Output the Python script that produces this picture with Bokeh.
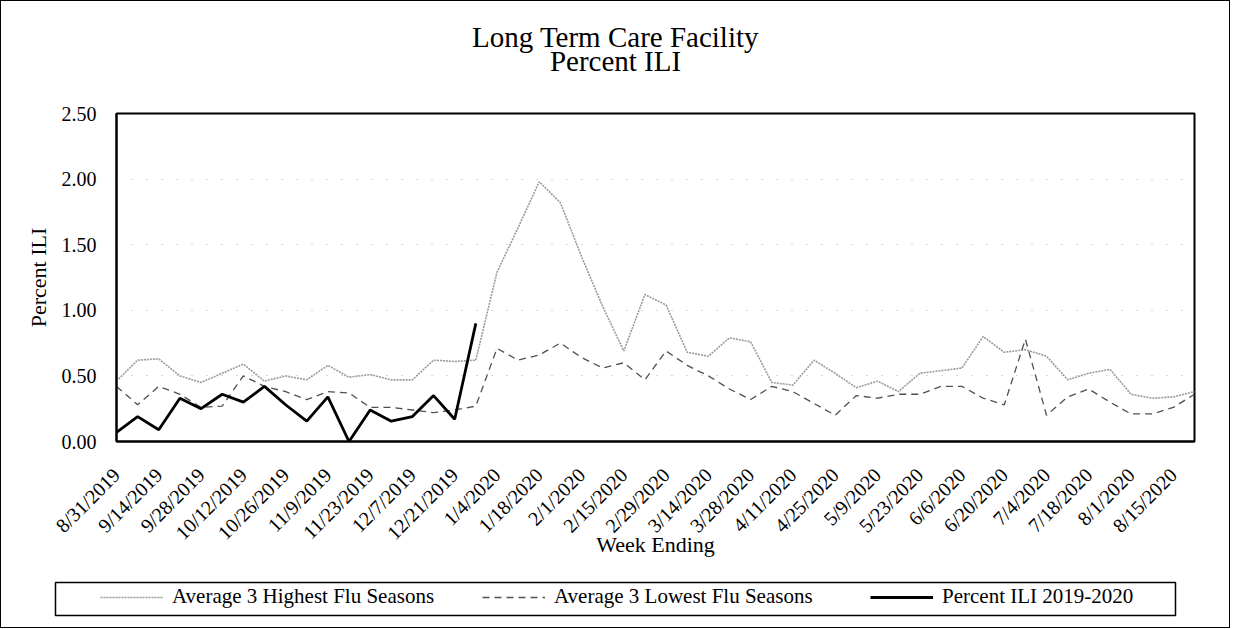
import math
from bokeh.plotting import figure
from bokeh.layouts import column
from bokeh.models import (Range1d, FixedTicker, NumeralTickFormatter, Legend, LegendItem,
                          Label, ColumnDataSource)
from bokeh.embed import file_html
from bokeh.resources import INLINE

weeks = ["8/31/2019", "9/7/2019", "9/14/2019", "9/21/2019", "9/28/2019", "10/5/2019",
         "10/12/2019", "10/19/2019", "10/26/2019", "11/2/2019", "11/9/2019", "11/16/2019",
         "11/23/2019", "11/30/2019", "12/7/2019", "12/14/2019", "12/21/2019", "12/28/2019",
         "1/4/2020", "1/11/2020", "1/18/2020", "1/25/2020", "2/1/2020", "2/8/2020",
         "2/15/2020", "2/22/2020", "2/29/2020", "3/7/2020", "3/14/2020", "3/21/2020",
         "3/28/2020", "4/4/2020", "4/11/2020", "4/18/2020", "4/25/2020", "5/2/2020",
         "5/9/2020", "5/16/2020", "5/23/2020", "5/30/2020", "6/6/2020", "6/13/2020",
         "6/20/2020", "6/27/2020", "7/4/2020", "7/11/2020", "7/18/2020", "7/25/2020",
         "8/1/2020", "8/8/2020", "8/15/2020", "8/22/2020"]

avg_highest = [0.46, 0.62, 0.63, 0.50, 0.45, 0.52, 0.59, 0.46, 0.50, 0.47, 0.58, 0.49,
               0.51, 0.47, 0.47, 0.62, 0.61, 0.62, 1.29, 1.63, 1.98, 1.82, 1.41, 1.03,
               0.69, 1.12, 1.04, 0.68, 0.65, 0.79, 0.76, 0.45, 0.43, 0.62, 0.52, 0.41,
               0.46, 0.38, 0.52, 0.54, 0.56, 0.80, 0.68, 0.70, 0.65, 0.47, 0.52, 0.55,
               0.36, 0.33, 0.34, 0.38]

avg_lowest = [0.42, 0.28, 0.42, 0.36, 0.26, 0.27, 0.50, 0.42, 0.38, 0.32, 0.38, 0.37,
              0.26, 0.26, 0.24, 0.22, 0.24, 0.27, 0.71, 0.62, 0.66, 0.75, 0.64, 0.56,
              0.60, 0.47, 0.69, 0.58, 0.50, 0.40, 0.32, 0.42, 0.38, 0.29, 0.20, 0.35,
              0.33, 0.36, 0.36, 0.42, 0.42, 0.33, 0.28, 0.78, 0.20, 0.34, 0.40, 0.30,
              0.21, 0.21, 0.26, 0.36]

ili_2019_2020 = [0.07, 0.19, 0.09, 0.33, 0.25, 0.36, 0.30, 0.42, 0.28, 0.155, 0.34, 0.00,
                 0.24, 0.155, 0.19, 0.35, 0.17, 0.90]

y_ticks = [0.0, 0.5, 1.0, 1.5, 2.0, 2.5]
series_names = ["Average 3 Highest Flu Seasons", "Average 3 Lowest Flu Seasons",
                "Percent ILI 2019-2020"]
title_lines = ["Long Term Care Facility", "Percent ILI"]

FONT = "Liberation Serif"
W = 1228
HI_STYLE = dict(line_color="#9a9a9a", line_width=1.6, line_dash="2 1")
LO_STYLE = dict(line_color="#505050", line_width=1.3, line_dash="7 5")
CUR_STYLE = dict(line_color="black", line_width=2.8)

# ---------- title strip ----------
t_fig = figure(width=W, height=97, output_backend="svg", toolbar_location=None,
               x_range=Range1d(0, 1), y_range=Range1d(0, 1),
               x_axis_type=None, y_axis_type=None)
t_fig.frame_align = False
t_fig.min_border_left = t_fig.min_border_right = 0
t_fig.min_border_top = t_fig.min_border_bottom = 0
t_fig.outline_line_color = None
t_fig.xgrid.visible = False
t_fig.ygrid.visible = False
for txt, yb in zip(title_lines, [62, 38]):
    t_fig.add_layout(Label(x=614, y=yb, x_units="screen", y_units="screen", text=txt,
                           text_align="center", text_baseline="alphabetic", text_font=FONT,
                           text_font_size="29px", text_color="black"))

# ---------- main chart ----------
p = figure(width=W, height=476, output_backend="svg", toolbar_location=None,
           x_range=Range1d(0, len(weeks) - 1), y_range=Range1d(0, 2.5))
p.frame_align = False
p.min_border_left = 115
p.min_border_right = W - 1193
p.min_border_top = 15
p.min_border_bottom = 133
p.outline_line_color = "black"
p.outline_line_width = 2

p.yaxis.ticker = FixedTicker(ticks=y_ticks)
p.yaxis.formatter = NumeralTickFormatter(format="0.00")
p.yaxis.major_tick_line_color = None
p.yaxis.minor_tick_line_color = None
p.yaxis.axis_line_color = "black"
p.yaxis.axis_line_width = 2
p.yaxis.major_label_text_font = FONT
p.yaxis.major_label_text_font_size = "20px"
p.yaxis.major_label_text_color = "black"
p.yaxis.major_label_standoff = 14
p.yaxis.axis_label = "Percent ILI"
p.yaxis.axis_label_text_font = FONT
p.yaxis.axis_label_text_font_size = "22px"
p.yaxis.axis_label_text_font_style = "normal"
p.yaxis.axis_label_text_color = "black"
p.yaxis.axis_label_standoff = 8

label_idx = list(range(0, len(weeks), 2))
p.xaxis.ticker = FixedTicker(ticks=label_idx)
p.xaxis.major_label_overrides = {i: weeks[i] for i in label_idx}
p.xaxis.major_label_orientation = math.pi / 4
p.xaxis.major_tick_line_color = None
p.xaxis.minor_tick_line_color = None
p.xaxis.axis_line_color = "black"
p.xaxis.axis_line_width = 2
p.xaxis.major_label_text_font = FONT
p.xaxis.major_label_text_font_size = "20px"
p.xaxis.major_label_text_color = "black"
p.xaxis.major_label_standoff = 24
p.xaxis.axis_label = "Week Ending"
p.xaxis.axis_label_text_font = FONT
p.xaxis.axis_label_text_font_size = "22px"
p.xaxis.axis_label_text_font_style = "normal"
p.xaxis.axis_label_text_color = "black"
p.xaxis.axis_label_standoff = -22

p.xgrid.grid_line_color = None
p.ygrid.ticker = FixedTicker(ticks=[0.5, 1.0, 1.5, 2.0])
p.ygrid.grid_line_color = "#b0b0b0"
p.ygrid.grid_line_dash = "1 14"
p.ygrid.grid_line_width = 1

x_all = list(range(len(weeks)))
src_hi = ColumnDataSource(dict(x=x_all, y=avg_highest))
src_lo = ColumnDataSource(dict(x=x_all, y=avg_lowest))
src_cur = ColumnDataSource(dict(x=x_all[:len(ili_2019_2020)], y=ili_2019_2020))
p.line("x", "y", source=src_hi, **HI_STYLE)
p.line("x", "y", source=src_lo, **LO_STYLE)
p.line("x", "y", source=src_cur, **CUR_STYLE)

# ---------- legend strip (its frame is the legend box) ----------
l_fig = figure(width=W, height=53, output_backend="svg", toolbar_location=None,
               x_range=Range1d(0, 1), y_range=Range1d(0, 1),
               x_axis_type=None, y_axis_type=None)
l_fig.frame_align = False
l_fig.min_border_left = 54
l_fig.min_border_right = W - 1174
l_fig.min_border_top = 8
l_fig.min_border_bottom = 12
l_fig.outline_line_color = "black"
l_fig.outline_line_width = 1.5
l_fig.xgrid.visible = False
l_fig.ygrid.visible = False
# legend-only key renderers: their data sit outside this strip's ranges, so only the keys show
off = dict(x=[-5, -4], y=[-5, -4])
lr_hi = l_fig.line("x", "y", source=ColumnDataSource(off), **HI_STYLE)
lr_lo = l_fig.line("x", "y", source=ColumnDataSource(off), **LO_STYLE)
lr_cur = l_fig.line("x", "y", source=ColumnDataSource(off), **CUR_STYLE)
for name, rend, xo in zip(series_names, [lr_hi, lr_lo, lr_cur], [45, 427, 815]):
    lg = Legend(items=[LegendItem(label=name, renderers=[rend])], location=(xo, 6),
                orientation="horizontal", padding=0, margin=0, spacing=0,
                glyph_width=63, glyph_height=20, label_height=20, label_standoff=9,
                label_text_font=FONT, label_text_font_size="21px", label_text_color="black",
                border_line_color=None, background_fill_alpha=0)
    l_fig.add_layout(lg)

layout = column(t_fig, p, l_fig, spacing=0,
                styles={"border": "1px solid black"})

open("out.html", "w").write(file_html(layout, INLINE))
